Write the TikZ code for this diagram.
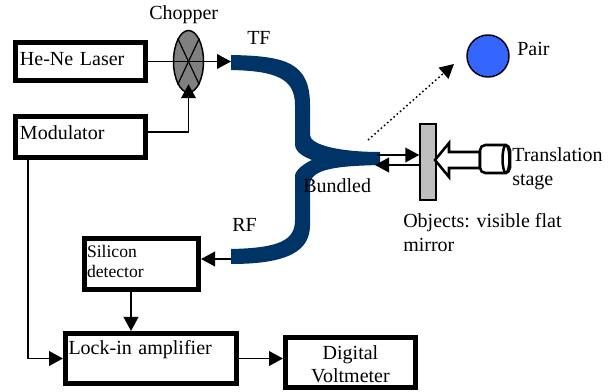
\documentclass[tikz,border=0pt]{standalone}
\usepackage{fontspec}
\setmainfont{Liberation Serif}
\usetikzlibrary{arrows.meta,shapes.geometric}
\definecolor{fibre}{RGB}{0,51,102}
\definecolor{pairblue}{RGB}{51,102,255}
\tikzset{
	blockbox/.style={draw, line width=3.75pt, inner ysep=0pt, align=left, font=\fontsize{15}{17.6}\selectfont},
	plainlabel/.style={inner sep=0pt, anchor=base west, align=left, font=\fontsize{15}{18}\selectfont},
	conn/.style={line width=1.2pt, -{Triangle[length=10.5pt,width=11pt]}},
	stageline/.style={line width=1.9pt}
}
\begin{document}
	\begin{tikzpicture}[x=0.75pt,y=-0.75pt]
		\useasboundingbox (0,0) rectangle (615,392);

		\node[blockbox, inner xsep=3.375pt, text width=90.75pt, text height=17.6pt, text depth=10.9pt] (laser) at (80.5,61.5) {He-Ne Laser};
		\node[blockbox, inner xsep=3.375pt, text width=90.75pt, text height=16.9pt, text depth=13.85pt] (modulator) at (80.5,137) {Modulator};
		\node[blockbox, inner xsep=1.875pt, text width=81.75pt, text height=14.625pt, text depth=23.625pt, font=\fontsize{13.2}{15}\selectfont] (silicon) at (141.5,264) {Silicon\\detector};
		\node[blockbox, inner xsep=2.25pt, text width=123.75pt, text height=16.125pt, text depth=21.375pt] (lockin) at (151,358.5) {Lock-in amplifier};
		\node[blockbox, inner xsep=0pt, text width=97.5pt, text height=16.125pt, text depth=21.375pt, align=center] (voltmeter) at (350.5,362.5) {Digital\\Voltmeter};

		\node[plainlabel] (chopperlabel) at (149,20) {Chopper};
		\node[plainlabel] (tflabel) at (247,45) {TF};
		\node[plainlabel] (rflabel) at (232,232) {RF};
		\node[plainlabel] (pairlabel) at (517,56) {Pair};
		\node[plainlabel] (stagelabel) at (512,186) {Translation\\stage};
		\node[plainlabel] (objectlabel) at (403,252) {Objects: visible flat\\mirror};

		% fibre bundle
		\fill[fibre] (231,55) .. controls (285,56) and (310,62) .. (310,105) -- (310,135)
			.. controls (310,145) and (340,152) .. (380,152) -- (380,165)
			.. controls (340,166) and (310,168) .. (310,185) -- (310,225)
			.. controls (310,250) and (290,264) .. (231,264) -- (231,249)
			.. controls (280,248) and (295,240) .. (295,220) -- (295,176)
			.. controls (295,170) and (305,163) .. (312,160)
			.. controls (305,157) and (295,153) .. (295,144) -- (295,105)
			.. controls (295,78) and (275,71) .. (231,70) -- cycle;
		\node[plainlabel] (bundledlabel) at (303,193) {Bundled};

		\coordinate (tfend) at (231,61.5);
		\coordinate (rfend) at (231,259);
		\coordinate (bundleout) at (377,155);
		\coordinate (bundlein) at (375,165);
		\coordinate (modtap) at (28,160);

		% chopper wheel
		\node[draw, line width=1.1pt, fill=gray, ellipse, inner sep=0pt, minimum width=22.5pt, minimum height=46.5pt] (chopper) at (188.5,61.5) {};
		\draw[line width=0.9pt] (chopper.115) -- (chopper.-65);
		\draw[line width=0.9pt] (chopper.65) -- (chopper.-115);

		% mirror and pair
		\node[draw, line width=1.1pt, fill=gray!50, inner sep=0pt, minimum width=12pt, minimum height=57pt] (mirror) at (428,162) {};
		\node[draw, line width=1.1pt, fill=pairblue, circle, inner sep=0pt, minimum size=31.5pt] (pair) at (488,56) {};

		% translation stage
		\draw[stageline, fill=white] (435,160) -- (449,143) -- (449,152) -- (480,152) -- (480,168) -- (449,168) -- (449,177) -- cycle;
		\draw[stageline, fill=white, rounded corners=4pt] (480,145) rectangle (510,173);
		\draw[stageline] (506,159) ellipse (2.6pt and 10.5pt);

		\draw[conn] (laser.east) -- (tfend);
		\draw[conn] ([yshift=3.75pt]modulator.east) -| ([yshift=6.75pt]chopper.south);
		\draw[conn] (modtap) |- (lockin.west);
		\draw[conn] ([xshift=-7.875pt]silicon.south) -- ([xshift=-15pt]lockin.north);
		\draw[conn] (lockin.east) -- (lockin.east -| voltmeter.west);
		\draw[conn] (rfend) -- (rfend -| silicon.east);
		\draw[conn] (bundleout) -- (bundleout -| mirror.west);
		\draw[conn] (bundlein -| mirror.west) -- (bundlein);
		\draw[conn, dotted, line width=1.1pt] (368,140) -- (454,64);
	\end{tikzpicture}
\end{document}
